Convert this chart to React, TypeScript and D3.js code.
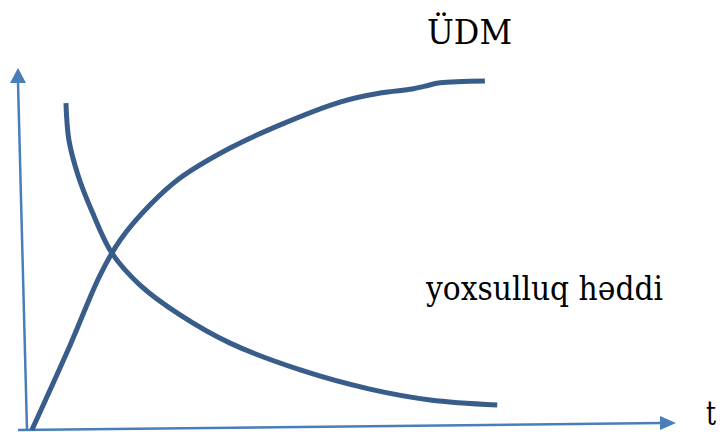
import React from 'react';
import * as d3 from 'd3';

// Abstract units: t along x (0..100), value along y (0..100)
const GDP_T = [0.9, 6.8, 11.4, 14.5, 19.1, 23.7, 31.4, 39.1, 48.3, 54.5, 59.4, 61.4, 63.7, 70.6];
const GDP_V = [0, 23.5, 42.8, 52.5, 62.2, 69.6, 77.9, 84.3, 90.6, 93.1, 94.2, 95.0, 95.9, 96.4];

const POV_T = [6.15, 6.6, 8.0, 10.2, 13.2, 17.5, 23.7, 31.4, 42.2, 52.9, 62.2, 72.5];
const POV_V = [90.3, 80.1, 70.4, 60.2, 48.9, 40.1, 31.8, 24.0, 16.6, 11.3, 8.3, 6.9];

const LABELS = { gdp: 'ÜDM', poverty: 'yoxsulluq həddi', axis: 't' };

const W = 723;
const H = 432;
const CURVE = '#385D8A';
const AXIS = '#4A7EBB';
// Liberation Serif doesn't render here, DejaVu Serif squeezed to Times widths
const FONT = 'DejaVu Serif';

const App: React.FC = () => {
  const x = d3.scaleLinear().domain([0, 100]).range([26, 676]);
  const y = d3.scaleLinear().domain([0, 100]).range([430, 68]);

  const line = d3.line<[number, number]>()
    .x(d => x(d[0]))
    .y(d => y(d[1]))
    .curve(d3.curveCatmullRom.alpha(0.5));

  const gdp = GDP_T.map((t, i) => [t, GDP_V[i]] as [number, number]);
  const pov = POV_T.map((t, i) => [t, POV_V[i]] as [number, number]);

  const x0 = x(0);
  const y0 = y(0);
  const xEnd = x(100);
  const yTop = y(100);

  return (
    <svg width={W} height={H} style={{ position: 'absolute', left: 0, top: 0 }}>
      <rect width={W} height={H} fill="#fff" />
      {/* vertical axis */}
      <line x1={x0 + 1} y1={y0} x2={x0 - 8} y2={yTop + 14} stroke={AXIS} strokeWidth={2.5} />
      <path d={`M${x0 - 8},${yTop} L${x0 - 16},${yTop + 15} L${x0},${yTop + 15} Z`} fill={AXIS} />
      {/* horizontal axis */}
      <line x1={x0 - 8} y1={y0} x2={xEnd - 14} y2={y0 - 7} stroke={AXIS} strokeWidth={2.5} />
      <path d={`M${xEnd},${y0 - 7} L${xEnd - 16},${y0 - 14} L${xEnd - 16},${y0} Z`} fill={AXIS} />

      <path d={line(gdp) ?? ''} fill="none" stroke={CURVE} strokeWidth={5} />
      <path d={line(pov) ?? ''} fill="none" stroke={CURVE} strokeWidth={5} />

      <text x={427} y={44} fontFamily={FONT} fontSize={34} textLength={85} lengthAdjust="spacingAndGlyphs" fill="#000">{LABELS.gdp}</text>
      <text x={426} y={300} fontFamily={FONT} fontSize={34} textLength={237} lengthAdjust="spacingAndGlyphs" fill="#000">{LABELS.poverty}</text>
      <text x={706} y={425} fontFamily={FONT} fontSize={33} textLength={10} lengthAdjust="spacingAndGlyphs" fill="#000">{LABELS.axis}</text>
    </svg>
  );
};

export default App;
